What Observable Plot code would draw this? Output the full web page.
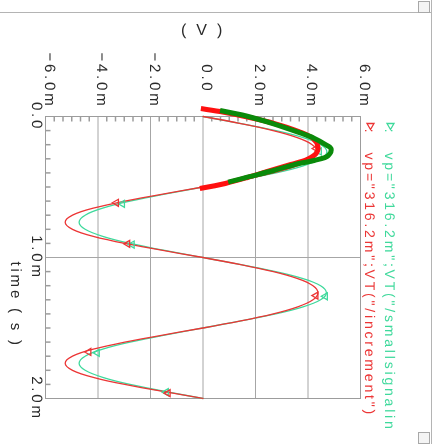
<!DOCTYPE html>
<html><head><meta charset="utf-8">
<script src="https://cdn.jsdelivr.net/npm/d3@7"></script>
<script src="https://cdn.jsdelivr.net/npm/@observablehq/plot@0.6"></script>
<style>
html,body{margin:0;padding:0;background:#fff;}
#wrap{position:relative;width:441px;height:444px;overflow:hidden;background:#fff;}
#chart{position:absolute;left:0;top:0;will-change:transform;-webkit-font-smoothing:antialiased;}
#chart svg text{letter-spacing:2.8px;text-rendering:geometricPrecision;}
.deco{position:absolute;background:#b4b4b4;}
.box{position:absolute;border:1px solid #a8a8a8;background:#f4f4f4;}
</style></head><body>
<div id="wrap"><div id="chart"></div>
<div class="deco" style="left:0;top:12px;width:432px;height:1px"></div>
<div class="deco" style="left:431px;top:0;width:1px;height:444px"></div>
<div class="box" style="left:418px;top:1px;width:10px;height:10px"></div>
<div class="box" style="left:418px;top:432px;width:10px;height:10px"></div>
</div>
<script>
// time samples (ms)
const timeMs = [0,0.05,0.1,0.15,0.2,0.25,0.3,0.35,0.4,0.45,0.5,0.55,0.6,0.65,0.7,0.75,0.8,0.85,0.9,0.95,
  1.0,1.05,1.1,1.15,1.2,1.25,1.3,1.35,1.4,1.45,1.5,1.55,1.6,1.65,1.7,1.75,1.8,1.85,1.9,1.95,2.0];
// v : vp="316.2m";VT("/smallsignalin")  (mV)
const vSmallSignal = [0,1.46,2.78,3.82,4.49,4.72,4.49,3.82,2.78,1.46,0,-1.46,-2.78,-3.82,-4.49,-4.72,-4.49,-3.82,-2.78,-1.46,
  0,1.45,2.77,3.81,4.48,4.70,4.48,3.81,2.77,1.45,0,-1.46,-2.78,-3.82,-4.49,-4.72,-4.49,-3.82,-2.78,-1.46,0];
// v : vp="316.2m";VT("/increment")  (mV)
const vIncrement = [0,1.44,2.67,3.59,4.16,4.35,4.16,3.59,2.67,1.44,0,-1.53,-2.98,-4.18,-4.97,-5.25,-4.97,-4.18,-2.98,-1.53,
  0,1.44,2.68,3.61,4.19,4.38,4.19,3.61,2.68,1.44,0,-1.53,-2.98,-4.18,-4.97,-5.25,-4.97,-4.18,-2.98,-1.53,0];
// highlighted (thick) traces
const thickRedT = [-0.057,-0.035,0.004,0.050,0.106,0.156,0.213,0.262,0.305,0.340,0.383,0.433,0.475,0.511];
const thickRedV = [-0.08,0.65,1.69,2.73,3.65,4.19,4.38,4.31,3.96,3.35,2.58,1.69,0.85,-0.12];
const thickGreenT = [-0.043,-0.002,0.052,0.111,0.154,0.194,0.229,0.277,0.312,0.335,0.383,0.430,0.466];
const thickGreenV = [0.65,1.69,2.69,3.62,4.23,4.62,4.88,4.77,4.23,3.62,2.69,1.69,0.96];
// markers
const markSmallT = [0.248,0.619,0.908,1.275,1.676,1.955];
const markSmallV = [4.43,-3.07,-2.70,4.66,-4.03,-1.40];
const markIncrT = [0.227,0.612,0.903,1.27,1.67,1.962];
const markIncrV = [4.31,-3.30,-2.87,4.30,-4.35,-1.33];
// axes
const vTicks = [-6,-4,-2,2,4,6];
const vTickLabels = ["\u22126.0m","\u22124.0m","\u22122.0m","2.0m","4.0m","6.0m"];
const vZeroTick = [0];
const vZeroLabel = ["0.0"];
const vGrid = [-4,-2,0,2,4];
const tTicks = [0,1,2];
const tTickLabels = ["0.0","1.0m","2.0m"];
const tGrid = [1];
const tMinor = [0.1,0.2,0.3,0.4,0.5,0.6,0.7,0.8,0.9,1.1,1.2,1.3,1.4,1.5,1.6,1.7,1.8,1.9];
const vMinor = d3.range(-6, 6.001, 1/3).filter(v => Math.abs(v/2 - Math.round(v/2)) > 0.01);
const legendSmall = 'vp="316.2m";VT("/smallsignalin';
const legendIncr = 'vp="316.2m";VT("/increment")';

const cGreen = "#3fd99c", cRed = "#ec3535", cThickGreen = "#0a8a0a", cThickRed = "#ff1010", cText = "#2a2a2a";

const small = timeMs.map((t,i)=>({t, v:vSmallSignal[i]}));
const incr = timeMs.map((t,i)=>({t, v:vIncrement[i]}));
const thickRed = thickRedT.map((t,i)=>({t, v:thickRedV[i]}));
const thickGreen = thickGreenT.map((t,i)=>({t, v:thickGreenV[i]}));
const mSmall = markSmallT.map((t,i)=>({t, v:markSmallV[i]}));
const mIncr = markIncrT.map((t,i)=>({t, v:markIncrV[i]}));

const tickH = {draw(ctx){ ctx.moveTo(0,0); ctx.lineTo(5,0); }};
const tickV = {draw(ctx){ ctx.moveTo(0,0); ctx.lineTo(0,5); }};

const chart = Plot.plot({
  width: 441, height: 444,
  marginLeft: 45, marginRight: 81, marginTop: 116, marginBottom: 46,
  style: {fontFamily: "Liberation Sans, Arial, sans-serif", background: "transparent", overflow: "visible"},
  x: {domain: [-6, 6], axis: null},
  y: {domain: [0, 2], reverse: true, axis: null},
  marks: [
    Plot.ruleX(vGrid, {stroke: "#a6a6a6", strokeWidth: 1}),
    Plot.ruleY(tGrid, {stroke: "#a6a6a6", strokeWidth: 1}),
    Plot.frame({stroke: "#9c9c9c"}),
    Plot.dot(tMinor, {y: d=>d, frameAnchor: "left", symbol: tickH, stroke: "#9c9c9c", fill: "none"}),
    Plot.dot(vMinor, {x: d=>d, frameAnchor: "top", symbol: tickV, stroke: "#9c9c9c", fill: "none"}),
    // axis labels
    Plot.text(vTicks, {x: d=>d, text: (d,i)=>vTickLabels[i], frameAnchor: "top", dy: -8, dx: 10, rotate: 90, textAnchor: "end", fontSize: 15, fill: cText}),
    Plot.text(vZeroTick, {x: d=>d, text: (d,i)=>vZeroLabel[i], frameAnchor: "top", dy: -23, dx: 10, rotate: 90, textAnchor: "end", fontSize: 15, fill: cText}),
    Plot.text(tTicks, {y: d=>d, text: (d,i)=>tTickLabels[i], frameAnchor: "left", dx: -9, rotate: 90, textAnchor: "middle", fontSize: 15, fill: cText}),
    Plot.text(["time ( s )"], {frameAnchor: "left", dx: -30, dy: 4, rotate: 90, fontSize: 15, fill: cText}),
    Plot.text(["( V )"], {frameAnchor: "top", dy: -93, fontSize: 16, fill: cText}),
    // legend
    Plot.dot([legendSmall], {frameAnchor: "top-right", dx: 30, dy: 9, symbol: "triangle", rotate: 180, r: 2.6, stroke: cGreen, fill: "none", strokeWidth: 1.3}),
    Plot.dot([legendIncr], {frameAnchor: "top-right", dx: 10, dy: 9, symbol: "triangle", rotate: 180, r: 2.6, stroke: cRed, fill: "none", strokeWidth: 1.3}),
    Plot.text([":"], {frameAnchor: "top-right", dx: 34, dy: 19, rotate: 90, fontSize: 14, fill: cGreen}),
    Plot.text([":"], {frameAnchor: "top-right", dx: 14, dy: 19, rotate: 90, fontSize: 14, fill: cRed}),
    Plot.text([legendSmall], {frameAnchor: "top-right", dx: 34, dy: 36, rotate: 90, textAnchor: "start", fontSize: 14, fill: cGreen}),
    Plot.text([legendIncr], {frameAnchor: "top-right", dx: 14, dy: 36, rotate: 90, textAnchor: "start", fontSize: 14, fill: cRed}),
    // traces
    Plot.line(small, {x: "v", y: "t", stroke: cGreen, strokeWidth: 1.3, curve: "natural"}),
    Plot.line(incr, {x: "v", y: "t", stroke: cRed, strokeWidth: 1.3, curve: "natural"}),
    Plot.dot(mSmall, {x: "v", y: "t", symbol: "triangle", rotate: -90, r: 2.6, stroke: cGreen, fill: "none", strokeWidth: 1.3}),
    Plot.dot(mIncr, {x: "v", y: "t", symbol: "triangle", rotate: -90, r: 2.6, stroke: cRed, fill: "none", strokeWidth: 1.3}),
    Plot.line(thickRed, {x: "v", y: "t", stroke: cThickRed, strokeWidth: 5, curve: "catmull-rom", strokeLinecap: "butt"}),
    Plot.line(thickGreen, {x: "v", y: "t", stroke: cThickGreen, strokeWidth: 5, curve: "catmull-rom", strokeLinecap: "butt"})
  ]
});
document.getElementById("chart").appendChild(chart);
</script>
</body></html>
